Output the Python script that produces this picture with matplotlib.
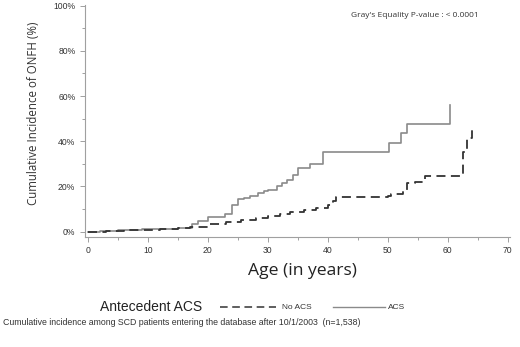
import numpy as np
import matplotlib
matplotlib.use("Agg")
import matplotlib.pyplot as plt
from matplotlib.lines import Line2D

# Cumulative incidence (age in years, percent)
acs_age = [0, 2, 5, 9, 12, 15, 17.3, 18.4, 20, 22.9, 24, 25, 26, 27, 28.4, 29.3,
           30, 31.5, 32.4, 33.2, 34.2, 35, 37, 39.2, 50.2, 52.2, 53.2, 60.3]
acs_pct = [0, 0.3, 0.6, 1.0, 1.3, 1.6, 3.3, 4.7, 6.4, 8.0, 11.8, 14.3, 15.0, 16.0,
           17.0, 17.8, 18.4, 20.0, 21.5, 22.9, 25.0, 28.0, 30.0, 35.4, 39.4, 43.5,
           47.6, 56.0]

noacs_age = [0, 3, 6, 9, 12, 15, 17, 18.2, 20, 23, 25.5, 28, 30, 32, 33.7, 36, 38,
             40, 40.9, 41.3, 45, 50, 50.5, 52.5, 53.2, 54.5, 56.2, 62.5, 63.2, 64.0,
             64.3]
noacs_pct = [0, 0.3, 0.6, 0.9, 1.2, 1.6, 2.0, 2.2, 3.3, 4.5, 5.3, 6.2, 7.0, 7.8, 8.8,
             9.5, 10.6, 12.0, 13.6, 15.2, 15.5, 15.8, 16.7, 18.0, 21.4, 22.0, 24.6,
             35.4, 41.3, 46.5, 46.5]

xticks = [0, 10, 20, 30, 40, 50, 60, 70]
yticks = [0, 20, 40, 60, 80, 100]
ytick_labels = ["0%", "20%", "40%", "60%", "80%", "100%"]

ax_col = "#a0a0a0"
txt_col = "#333333"

fig = plt.figure(figsize=(5.2, 3.47), dpi=100)
ax = fig.add_axes([0.1635, 0.318, 0.8175, 0.6676])

ax.step(acs_age, acs_pct, where="post", color="#8a8a8a", lw=1.2)
ax.step(noacs_age, noacs_pct, where="post", color="#333333", lw=1.3,
        dashes=(5, 3))

ax.set_xlim(-0.45, 70.4)
ax.set_ylim(-2.2, 100.3)
ax.set_xticks(xticks)
ax.set_xticks(np.arange(5, 70, 10), minor=True)
ax.set_yticks(yticks)
ax.set_yticklabels(ytick_labels)
ax.set_yticks(np.arange(10, 100, 20), minor=True)

for s in ["top", "right"]:
    ax.spines[s].set_visible(False)
for s in ["left", "bottom"]:
    ax.spines[s].set_color(ax_col)
    ax.spines[s].set_linewidth(0.8)
ax.tick_params(which="both", colors=ax_col, labelcolor=txt_col, labelsize=6.2,
               width=0.7)
ax.tick_params(which="major", length=3.5)
ax.tick_params(which="minor", length=2)
for lab in ax.get_xticklabels() + ax.get_yticklabels():
    lab.set_family("Liberation Sans")

ax.text(0.927, 0.955, "Gray's Equality P-value : < 0.0001", transform=ax.transAxes,
        ha="right", va="center", fontsize=6.0, family="Open Sans", color=txt_col)

fig.text(0.064, 0.673, "Cumulative Incidence of ONFH (%)", rotation=90,
         ha="center", va="center", fontsize=8.3, family="Open Sans", color=txt_col)
fig.text(0.581, 0.219, "Age (in years)", ha="center", va="center", fontsize=12.6,
         family="Open Sans", color="#222222")

# legend row
fig.text(0.1925, 0.115, "Antecedent ACS", ha="left", va="center", fontsize=10,
         family="Liberation Sans", color="#222222")
fig.add_artist(Line2D([0.423, 0.531], [0.115, 0.115], color="#333333", lw=1.1,
                      dashes=(5, 3)))
fig.text(0.542, 0.115, "No ACS", ha="left", va="center", fontsize=6,
         family="Liberation Sans", color=txt_col)
fig.add_artist(Line2D([0.64, 0.74], [0.115, 0.115], color="#8a8a8a", lw=1.0))
fig.text(0.746, 0.115, "ACS", ha="left", va="center", fontsize=6,
         family="Liberation Sans", color=txt_col)

fig.text(0.006, 0.07, "Cumulative incidence among SCD patients entering the database "
         "after 10/1/2003  (n=1,538)", ha="left", va="center", fontsize=6.3,
         family="Liberation Sans", color=txt_col)

fig.savefig("out.png", dpi=100)
